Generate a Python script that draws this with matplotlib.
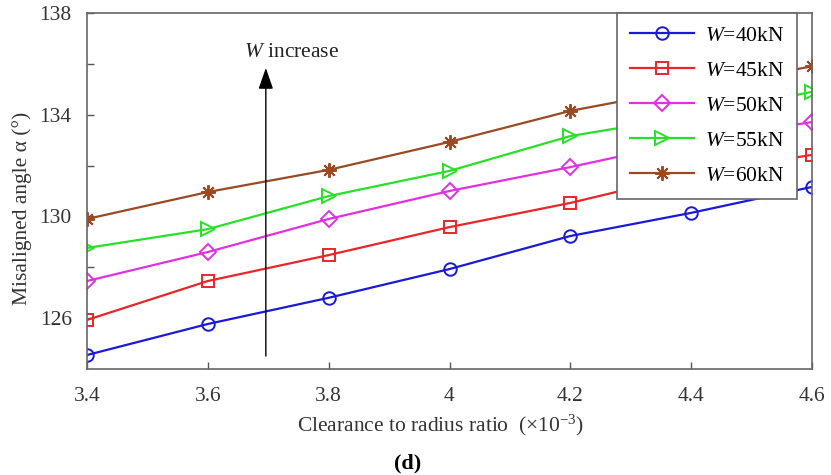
import numpy as np
import matplotlib
matplotlib.use('Agg')
from matplotlib import pyplot as plt

plt.rcParams['font.family'] = ['Liberation Serif', 'DejaVu Serif']
plt.rcParams['mathtext.fontset'] = 'custom'
plt.rcParams['mathtext.rm'] = 'Liberation Serif'
plt.rcParams['mathtext.it'] = 'Liberation Serif:italic'

ratio = [3.4, 3.6, 3.8, 4.0, 4.2, 4.4, 4.6]
w40 = [124.55, 125.77, 126.8, 127.93, 129.23, 130.14, 131.16]
w45 = [125.93, 127.46, 128.48, 129.58, 130.53, 131.67, 132.42]
w50 = [127.46, 128.6, 129.9, 131.0, 131.94, 132.97, 133.71]
w55 = [128.76, 129.5, 130.8, 131.79, 133.16, 133.95, 134.9]
w60 = [129.9, 130.96, 131.83, 132.93, 134.15, 135.05, 135.9]
labels = ['$W$=40kN', '$W$=45kN', '$W$=50kN', '$W$=55kN', '$W$=60kN']
xticks = [3.4, 3.6, 3.8, 4.0, 4.2, 4.4, 4.6]
xticklabels = ['3.4', '3.6', '3.8', '4', '4.2', '4.4', '4.6']
yticks = [126, 128, 130, 132, 134, 136, 138]
yticklabels = ['126', '', '130', '', '134', '', '138']

colors = ['#1a1ad6', '#e8262a', '#e030e0', '#28e028', '#9a4a22']
markers = ['o', 's', 'D', '>', (8, 2, 0)]
msizes = [9, 8, 8.5, 9.5, 10.5]

fs = 15.5

fig = plt.figure(figsize=(8.31, 4.75), dpi=100)
ax = fig.add_axes([87/831, 1-369/475, (812-87)/831, (369-13)/475])

series = [w40, w45, w50, w55, w60]
for i in range(5):
    ax.plot(ratio, series[i], color=colors[i], marker=markers[i], ms=msizes[i],
            mfc='none' if i < 4 else colors[i], mec=colors[i], mew=1.4, lw=1.6,
            label=labels[i])

ax.set_xlim(3.4, 4.6)
ax.set_ylim(124, 138)
ax.set_xticks(xticks)
ax.set_xticklabels(xticklabels)
ax.set_yticks(yticks)
ax.set_yticklabels(yticklabels)
ax.tick_params(direction='in', length=5, width=1, colors='#555555', labelcolor='#333333',
               labelsize=fs)
ax.tick_params(axis='x', pad=13)
ax.tick_params(axis='y', pad=11)
for s in ax.spines.values():
    s.set_color('#666666')
    s.set_linewidth(1.2)

ax.set_xlabel('Clearance to radius ratio  (×10$^{-3}$)', fontsize=fs, color='#333333')
ax.set_ylabel('Misaligned angle α (°)', fontsize=fs, color='#333333')
ax.xaxis.set_label_coords(0.488, -0.124)
ax.yaxis.set_label_coords(-0.076, 0.452)

ax.annotate('', xy=(3.696, 135.95), xytext=(3.696, 124.4),
            arrowprops=dict(arrowstyle='-|>,head_width=0.45,head_length=1.3',
                            color='black', lw=1.0))
ax.text(3.66, 136.45, '$W$ increase', fontsize=fs, ha='left', va='center',
        color='#222222')

leg = ax.legend(loc='upper right', bbox_to_anchor=(797/831, 1-13/475),
                bbox_transform=fig.transFigure, borderaxespad=0,
                fancybox=False, framealpha=1, edgecolor='#666666',
                fontsize=fs, handlelength=3.0, labelspacing=0.69,
                borderpad=0.6, handletextpad=0.5)
leg.get_frame().set_linewidth(1.2)

fig.text(408/831, 1-463/475, '(d)', fontsize=16, fontweight='bold', ha='center', va='center')

fig.savefig('out.png', dpi=100)
